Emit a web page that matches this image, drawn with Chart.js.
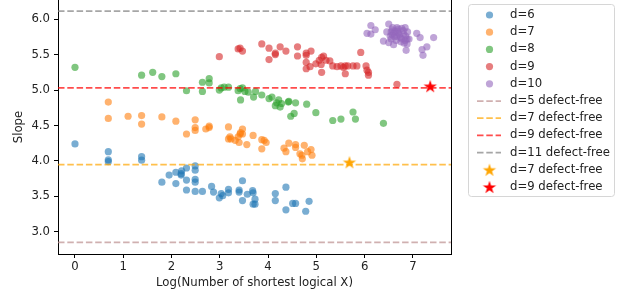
<!DOCTYPE html>
<html>
<head>
<meta charset="utf-8">
<script src="https://cdn.jsdelivr.net/npm/chart.js@4.4.0/dist/chart.umd.min.js"></script>
<style>
  body { margin: 0; background: #fff; }
  #wrap { width: 621px; height: 296px; }
</style>
</head>
<body>
<div id="wrap"><canvas id="chart" width="621" height="296"></canvas></div>
<script>
// ---- data ----
const xTicks = [0, 1, 2, 3, 4, 5, 6, 7];
const yTicks = [3.0, 3.5, 4.0, 4.5, 5.0, 5.5, 6.0];
const xMin = -0.352, xMax = 7.79;
const yMin = 2.687, yMax = 6.27;

const d6X = [0, 0.69, 0.69, 0.69, 1.38, 1.38, 1.80, 1.95, 2.09, 2.09, 2.21, 2.20, 2.20, 2.31, 2.31, 2.31, 2.49, 2.49, 2.49, 2.49, 2.49, 2.64, 2.83, 2.87, 2.99, 3.03, 3.06, 3.18, 3.18, 3.40, 3.40, 3.47, 3.47, 3.57, 3.68, 3.69, 3.69, 3.73, 3.73, 4.15, 4.15, 4.37, 4.37, 4.51, 4.57, 4.78, 4.85];
const d6Y = [4.24, 4.13, 4.015, 3.99, 4.06, 4.01, 3.70, 3.80, 3.68, 3.84, 3.86, 3.82, 3.80, 3.73, 3.90, 3.59, 3.93, 3.87, 3.74, 3.70, 3.57, 3.57, 3.64, 3.56, 3.48, 3.54, 3.51, 3.60, 3.55, 3.59, 3.56, 3.72, 3.44, 3.53, 3.58, 3.55, 3.39, 3.46, 3.39, 3.54, 3.44, 3.63, 3.31, 3.40, 3.40, 3.29, 3.43];

const d7X = [0.69, 0.69, 1.10, 1.38, 1.38, 1.80, 2.09, 2.31, 2.49, 2.49, 2.49, 2.71, 2.78, 2.78, 3.18, 3.18, 3.21, 3.23, 3.32, 3.38, 3.40, 3.42, 3.47, 3.47, 3.43, 3.56, 3.69, 3.87, 3.87, 3.96, 3.92, 4.33, 4.37, 4.43, 4.57, 4.57, 4.66, 4.70, 4.71, 4.75, 4.89, 4.91, 4.82];
const d7Y = [4.83, 4.60, 4.63, 4.64, 4.52, 4.62, 4.56, 4.38, 4.58, 4.47, 4.43, 4.45, 4.47, 4.49, 4.48, 4.31, 4.34, 4.31, 4.29, 4.34, 4.26, 4.38, 4.45, 4.38, 4.40, 4.23, 4.36, 4.30, 4.17, 4.26, 4.29, 4.18, 4.13, 4.25, 4.23, 4.19, 4.10, 4.08, 4.03, 4.22, 4.16, 4.08, 4.13];

const d8X = [0, 1.38, 1.61, 1.80, 2.09, 2.31, 2.64, 2.64, 2.78, 2.78, 2.99, 3.03, 3.09, 3.18, 3.38, 3.42, 3.47, 3.43, 3.52, 3.59, 3.70, 3.74, 3.87, 4.02, 4.08, 4.15, 4.18, 4.22, 4.25, 4.28, 4.42, 4.43, 4.47, 4.54, 4.57, 4.80, 4.99, 5.34, 5.51, 5.76, 5.81, 6.39];
const d8Y = [5.32, 5.21, 5.25, 5.19, 5.23, 4.99, 5.11, 4.98, 5.16, 5.10, 5.00, 5.03, 5.04, 5.04, 4.99, 5.02, 5.03, 4.86, 4.98, 4.97, 4.90, 4.98, 4.93, 4.88, 4.90, 4.78, 4.82, 4.86, 4.76, 4.81, 4.83, 4.84, 4.63, 4.67, 4.82, 4.80, 4.68, 4.57, 4.59, 4.69, 4.59, 4.53];

const d9X = [2.99, 3.38, 3.42, 3.47, 3.87, 4.02, 4.02, 4.15, 4.15, 4.25, 4.37, 4.61, 4.61, 4.79, 4.79, 4.79, 4.79, 4.89, 4.87, 4.99, 5.06, 5.10, 5.11, 5.11, 5.15, 5.20, 5.28, 5.34, 5.43, 5.51, 5.56, 5.60, 5.60, 5.65, 5.76, 5.84, 5.92, 6.03, 6.05, 6.08, 6.08, 6.67];
const d9Y = [5.47, 5.58, 5.59, 5.55, 5.65, 5.59, 5.43, 5.52, 5.50, 5.61, 5.55, 5.61, 5.48, 5.52, 5.49, 5.39, 5.30, 5.55, 5.33, 5.37, 5.42, 5.36, 5.46, 5.25, 5.48, 5.42, 5.41, 5.34, 5.33, 5.34, 5.32, 5.23, 5.34, 5.34, 5.34, 5.34, 5.53, 5.34, 5.28, 5.25, 5.21, 5.08];

const d10X = [6.05, 6.13, 6.13, 6.22, 6.39, 6.50, 6.50, 6.57, 6.57, 6.60, 6.63, 6.67, 6.67, 6.70, 6.74, 6.77, 6.81, 6.84, 6.84, 6.88, 6.86, 6.89, 6.53, 6.46, 7.08, 7.15, 7.19, 7.21, 7.29, 7.43, 6.92, 6.77, 6.55, 6.60, 6.65, 6.70, 6.75, 6.80, 6.85, 6.62, 6.58, 6.72, 6.88, 6.82, 6.55, 6.68];
const d10Y = [5.80, 5.91, 5.79, 5.85, 5.69, 5.93, 5.67, 5.85, 5.78, 5.64, 5.83, 5.88, 5.76, 5.80, 5.74, 5.87, 5.79, 5.70, 5.88, 5.65, 5.56, 5.82, 5.76, 5.82, 5.80, 5.74, 5.57, 5.49, 5.61, 5.74, 5.72, 5.72, 5.72, 5.80, 5.70, 5.86, 5.68, 5.84, 5.76, 5.75, 5.88, 5.78, 5.72, 5.66, 5.82, 5.83];

const freeLevels = [2.851, 3.949, 5.031, 6.112];
const freeNames = ["d=5 defect-free", "d=7 defect-free", "d=9 defect-free", "d=11 defect-free"];
const starX = [5.686, 7.36];
const starY = [3.982, 5.055];
const starNames = ["d=7 defect-free", "d=9 defect-free"];

const FONT = "DejaVu Sans";
const FS = 11.7;

function pairs(xs, ys) {
  return xs.map((x, i) => ({ x: x, y: ys[i] }));
}

// filled 5 point star, like matplotlib's '*'
function makeStar(color, r) {
  const c = document.createElement("canvas");
  const size = Math.ceil(r * 2 + 2);
  c.width = size; c.height = size;
  const g = c.getContext("2d");
  const cx = size / 2, cy = size / 2 + r * 0.1;
  g.beginPath();
  for (let i = 0; i < 10; i++) {
    const rr = i % 2 === 0 ? r : r * 0.38;
    const a = -Math.PI / 2 + i * Math.PI / 5;
    const px = cx + rr * Math.cos(a), py = cy + rr * Math.sin(a);
    if (i === 0) g.moveTo(px, py); else g.lineTo(px, py);
  }
  g.closePath();
  g.fillStyle = color;
  g.fill();
  return c;
}

const scatterNames = ["d=6", "d=7", "d=8", "d=9", "d=10"];
const scatterColors = ["rgba(31,119,180,0.6)", "rgba(255,127,14,0.6)", "rgba(44,160,44,0.6)", "rgba(214,39,40,0.6)", "rgba(148,103,189,0.6)"];
const scatterData = [pairs(d6X, d6Y), pairs(d7X, d7Y), pairs(d8X, d8Y), pairs(d9X, d9Y), pairs(d10X, d10Y)];
const lineColors = ["rgba(188,143,143,0.7)", "rgba(255,165,0,0.7)", "rgba(255,0,0,0.7)", "rgba(128,128,128,0.7)"];
const starColors = ["orange", "red"];
const DASH = [6.5, 2.8];

const datasets = [];
scatterData.forEach((d, i) => {
  datasets.push({
    type: "scatter", label: scatterNames[i], data: d,
    backgroundColor: scatterColors[i], borderWidth: 0, pointRadius: 3.6, pointHoverRadius: 3.6
  });
});
freeLevels.forEach((v, i) => {
  datasets.push({
    type: "line", label: freeNames[i],
    data: [{ x: xMin, y: v }, { x: xMax, y: v }],
    borderColor: lineColors[i], borderWidth: 1.75, borderDash: DASH,
    pointRadius: 0, fill: false
  });
});
const starImgs = starColors.map(c => makeStar(c, 7));
starX.forEach((x, i) => {
  datasets.push({
    type: "scatter", label: starNames[i], data: [{ x: x, y: starY[i] }],
    pointStyle: starImgs[i], pointRadius: 7, pointHoverRadius: 7,
    backgroundColor: starColors[i]
  });
});
// later datasets drawn on top, like matplotlib
datasets.forEach((d, i) => { d.order = datasets.length - i; });

const framePlugin = {
  id: "frame",
  afterDraw(chart) {
    const { ctx, chartArea: a } = chart;
    ctx.save();
    ctx.strokeStyle = "#000";
    ctx.lineWidth = 1;
    ctx.beginPath();
    ctx.moveTo(a.right + 0.5, a.top);
    ctx.lineTo(a.right + 0.5, a.bottom + 0.5);
    ctx.stroke();
    ctx.restore();
  }
};

const legendPlugin = {
  id: "sideLegend",
  afterDraw(chart) {
    const ctx = chart.ctx;
    const bx = 468.5, by = 4.5, bw = 146, bh = 192;
    ctx.save();
    ctx.fillStyle = "rgba(255,255,255,0.8)";
    ctx.strokeStyle = "#d6d6d6";
    ctx.lineWidth = 1;
    ctx.beginPath();
    ctx.roundRect(bx, by, bw, bh, 3);
    ctx.fill();
    ctx.stroke();

    const mx = 489.5, tx = 510, y0 = 15, step = 17.2;
    ctx.font = FS + "px '" + FONT + "'";
    ctx.textBaseline = "middle";
    ctx.textAlign = "left";
    let row = 0;
    scatterNames.forEach((n, i) => {
      const y = y0 + step * row++;
      ctx.fillStyle = scatterColors[i];
      ctx.beginPath();
      ctx.arc(mx, y, 3.6, 0, Math.PI * 2);
      ctx.fill();
      ctx.fillStyle = "#222";
      ctx.fillText(n, tx, y);
    });
    freeNames.forEach((n, i) => {
      const y = y0 + step * row++;
      ctx.strokeStyle = lineColors[i];
      ctx.lineWidth = 1.75;
      ctx.setLineDash(DASH);
      ctx.beginPath();
      ctx.moveTo(477, y);
      ctx.lineTo(501, y);
      ctx.stroke();
      ctx.setLineDash([]);
      ctx.fillStyle = "#222";
      ctx.fillText(n, tx, y);
    });
    starNames.forEach((n, i) => {
      const y = y0 + step * row++;
      const img = starImgs[i];
      ctx.drawImage(img, mx - img.width / 2, y - img.height / 2);
      ctx.fillStyle = "#222";
      ctx.fillText(n, tx, y);
    });
    ctx.restore();
  }
};

Chart.defaults.font.family = FONT;
Chart.defaults.font.size = FS;
Chart.defaults.color = "#222";

new Chart(document.getElementById("chart"), {
  type: "scatter",
  data: { datasets: datasets },
  options: {
    responsive: false,
    animation: false,
    events: [],
    layout: { autoPadding: false, padding: { left: 0, right: 170, top: 0, bottom: 0 } },
    plugins: { legend: { display: false }, tooltip: { enabled: false } },
    scales: {
      x: {
        type: "linear", min: xMin, max: xMax,
        afterBuildTicks: s => { s.ticks = xTicks.map(v => ({ value: v })); },
        afterFit: s => { s.height = 42; s.paddingLeft = 0; s.paddingRight = 0; },
        ticks: { padding: 2, maxRotation: 0, callback: v => String(v) },
        grid: { drawOnChartArea: false, drawTicks: true, tickLength: 4, tickColor: "#000", tickWidth: 1 },
        border: { display: true, color: "#000", width: 1 },
        title: { display: true, text: "Log(Number of shortest logical X)", padding: { top: 0, bottom: 6 }, font: { size: FS } }
      },
      y: {
        type: "linear", min: yMin, max: yMax,
        afterBuildTicks: s => { s.ticks = yTicks.map(v => ({ value: v })); },
        afterFit: s => { s.width = 58; s.paddingTop = 0; s.paddingBottom = 0; },
        ticks: { padding: 4, callback: v => v.toFixed(1) },
        grid: { drawOnChartArea: false, drawTicks: true, tickLength: 4, tickColor: "#000", tickWidth: 1 },
        border: { display: true, color: "#000", width: 1 },
        title: { display: true, text: "Slope", padding: { top: 12, bottom: 0 }, font: { size: FS } }
      }
    }
  },
  plugins: [framePlugin, legendPlugin]
});
</script>
</body>
</html>
